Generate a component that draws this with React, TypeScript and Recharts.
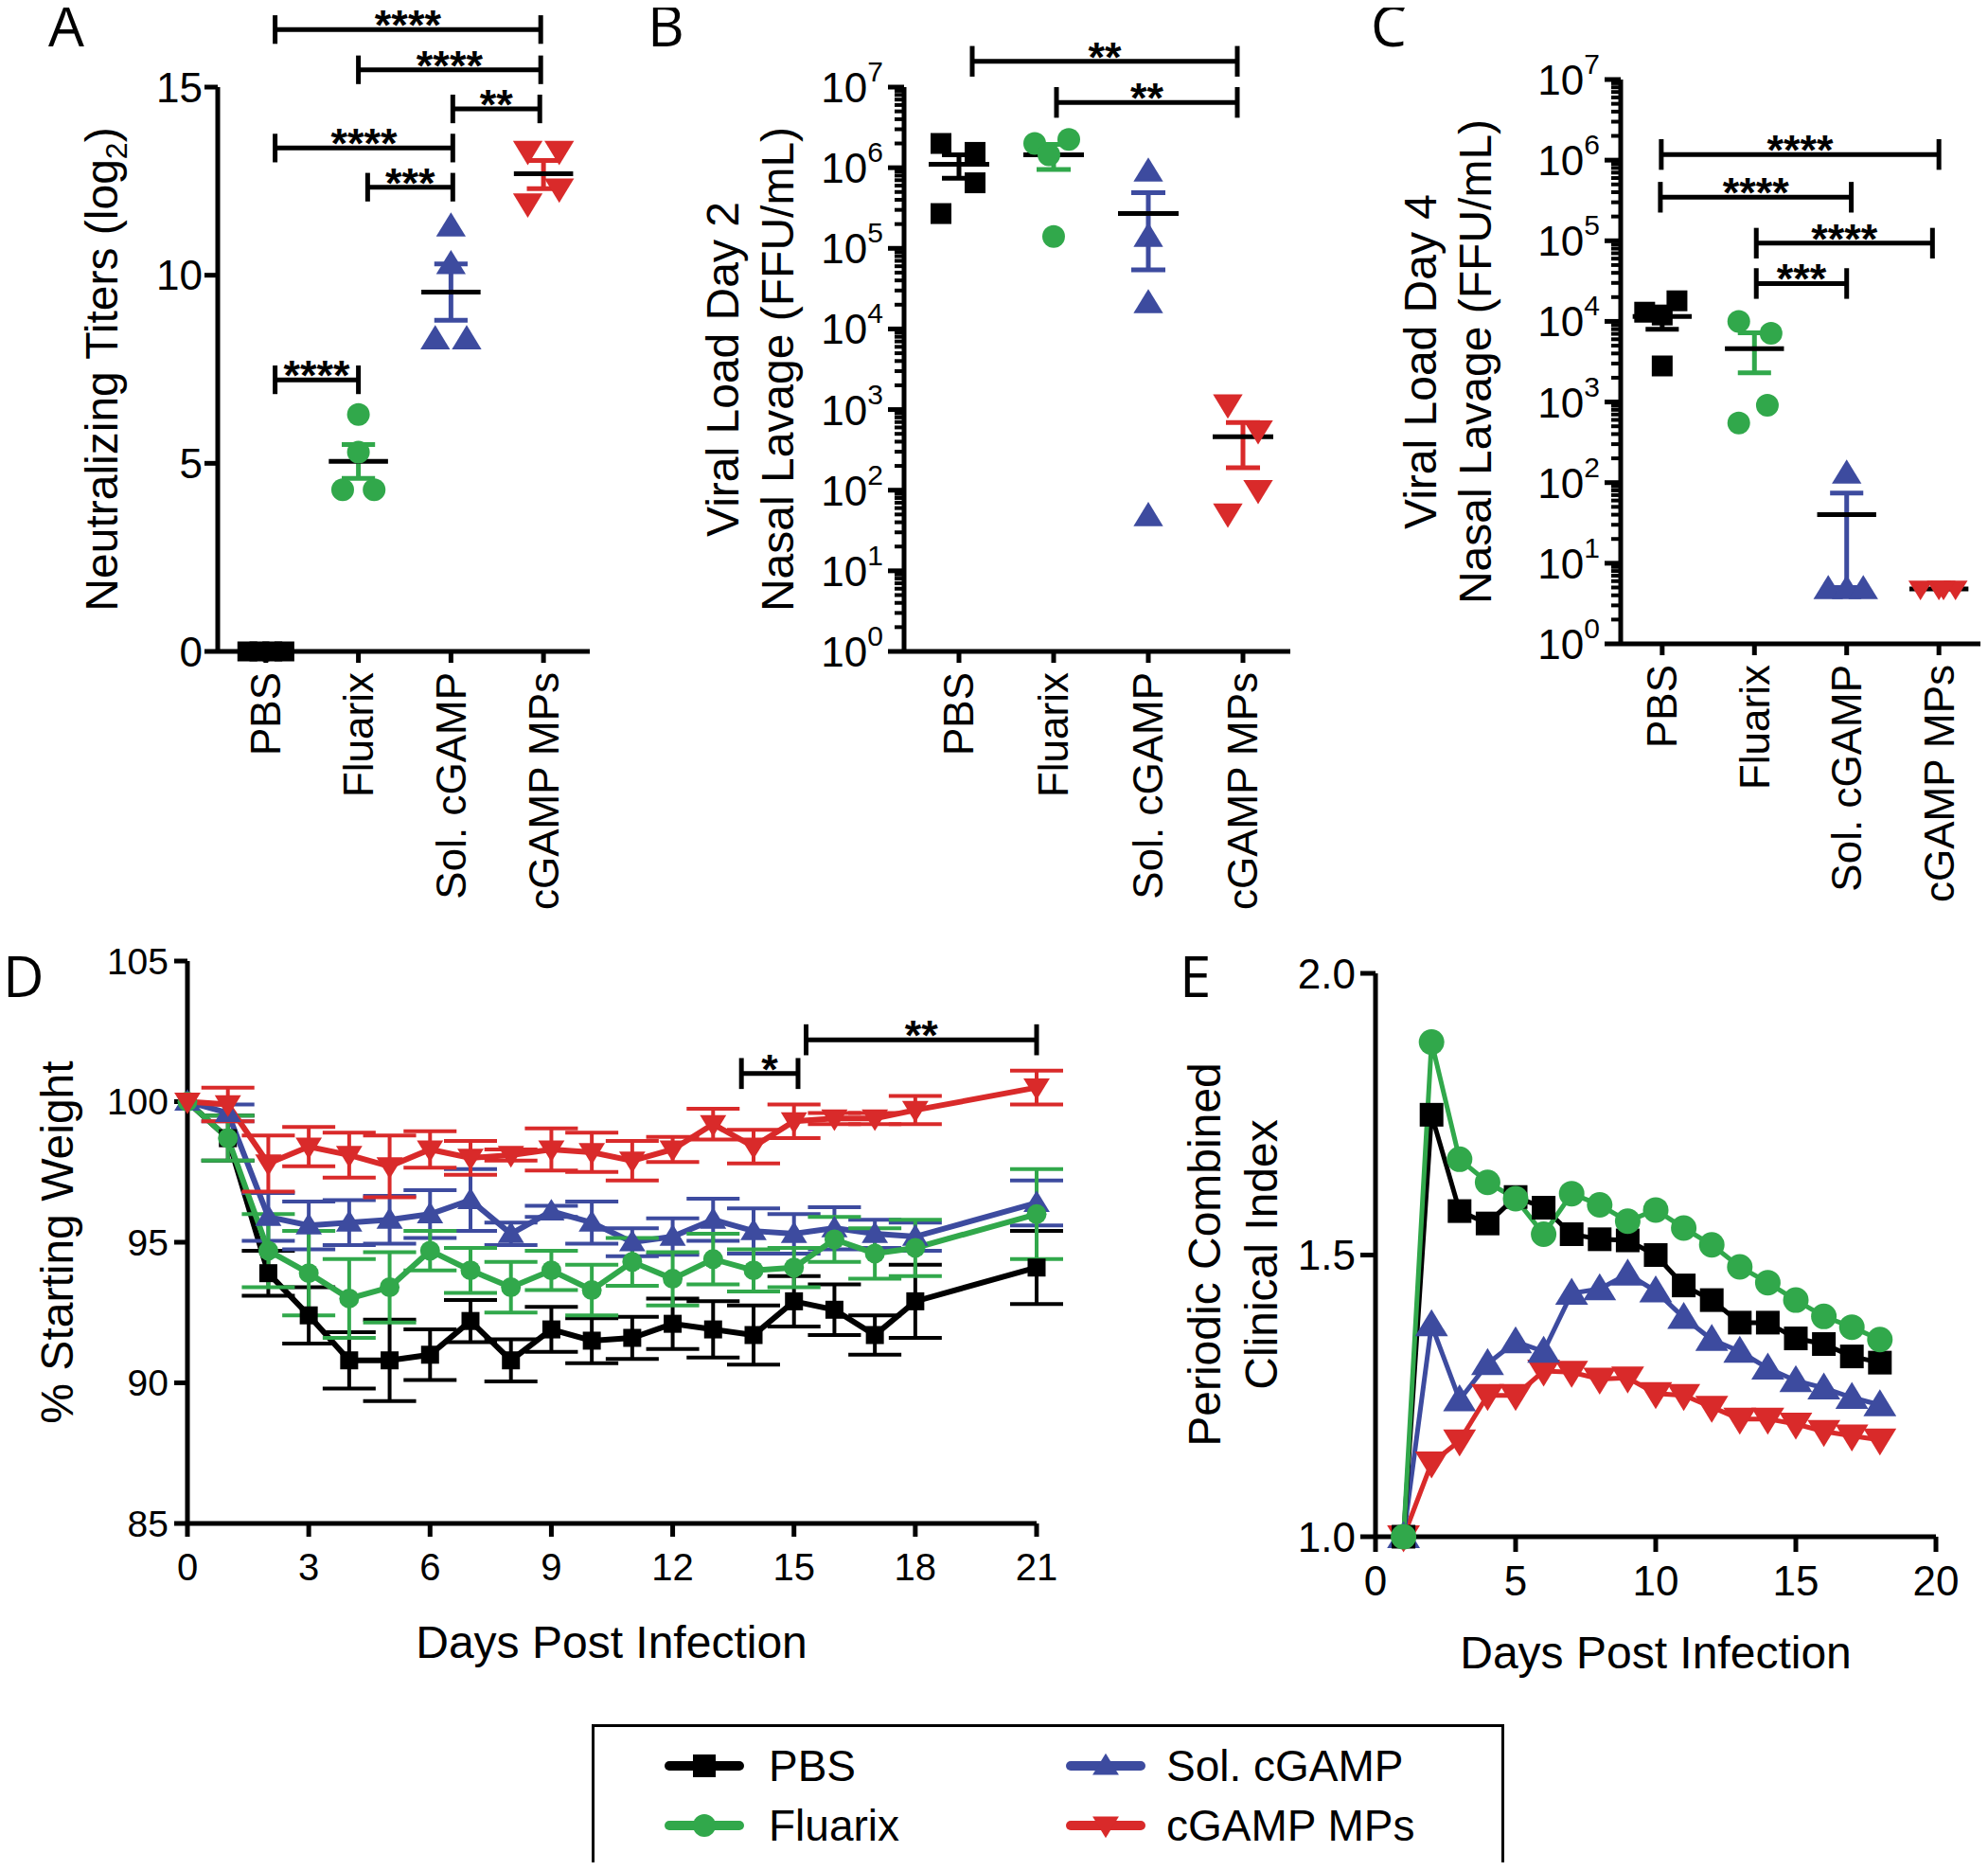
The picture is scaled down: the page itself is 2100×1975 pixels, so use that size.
import React from "react";
import {
  ScatterChart,
  Scatter,
  LineChart,
  Line,
  XAxis,
  YAxis,
  ReferenceLine,
  ErrorBar,
} from "recharts";

const FONT = "'Liberation Sans', Arial, Helvetica, sans-serif";
const LETTER_FONT = "'Open Sans', 'Noto Sans', sans-serif";
const INK = "#000000";
const AXIS_W = 5;

const GROUPS = ["PBS", "Fluarix", "Sol. cGAMP", "cGAMP MPs"];
const COLORS = ["#000000", "#31a84b", "#3d4b9f", "#d92a2a"];
const SHAPES = ["square", "circle", "up", "down"];

// ---- panel A: neutralizing titers (log2), 4 mice per group
const A_VALUES = [
  [0, 0, 0, 0],
  [6.3, 5.3, 4.3, 4.3],
  [11.3, 10.3, 8.3, 8.3],
  [13.3, 13.3, 12.3, 11.9],
];
const A_JITTER = [
  [-0.2, -0.07, 0.07, 0.2],
  [0, 0, -0.17, 0.17],
  [0, 0, -0.17, 0.17],
  [-0.17, 0.17, 0.17, -0.17],
];
const A_MEAN = [0, 5.05, 9.55, 12.7];
const A_SEM = [
  [0, 0],
  [4.6, 5.5],
  [8.8, 10.3],
  [12.3, 13.05],
];
const A_SIG = [
  { from: 1.1, to: 3.97, y: 16.53, text: "****" },
  { from: 2.0, to: 3.97, y: 15.46, text: "****" },
  { from: 3.02, to: 3.96, y: 14.42, text: "**" },
  { from: 1.1, to: 3.02, y: 13.38, text: "****" },
  { from: 2.1, to: 3.02, y: 12.34, text: "***" },
  { from: 1.1, to: 2.0, y: 7.22, text: "****" },
];

// ---- panel B: viral load day 2 (FFU/mL)
const B_VALUES = [
  [2.0e6, 1.55e6, 6.5e5, 2.7e5],
  [2.0e6, 2.25e6, 1.45e6, 1.4e5],
  [9.0e5, 1.4e5, 2.1e4, 48],
  [1150, 550, 100, 51],
];
const B_JITTER = [
  [-0.19, 0.17, 0.17, -0.19],
  [-0.2, 0.16, -0.05, 0],
  [0, 0, 0, 0],
  [-0.16, 0.16, 0.16, -0.16],
];
const B_MEAN = [1.1e6, 1.45e6, 2.7e5, 460];
const B_SEM = [
  [7.4e5, 1.45e6],
  [9.5e5, 1.95e6],
  [5.4e4, 4.9e5],
  [190, 690],
];
// y given as log10 exponent
const B_SIG = [
  { from: 1.14, to: 3.94, y: 7.32, text: "**" },
  { from: 2.03, to: 3.94, y: 6.81, text: "**" },
];

// ---- panel C: viral load day 4 (FFU/mL)
const C_VALUES = [
  [1.3e4, 1.8e4, 1.2e4, 2.8e3],
  [1.0e4, 7.1e3, 910, 550],
  [130, 4.8, 4.8, 4.8],
  [4.8, 4.8, 4.8, 4.8],
];
const C_JITTER = [
  [-0.19, 0.16, 0, 0],
  [-0.17, 0.18, 0.14, -0.17],
  [0, -0.2, 0, 0.18],
  [-0.2, 0, 0.18, 0.05],
];
const C_MEAN = [1.15e4, 4.6e3, 40, 4.8];
const C_SEM = [
  [8.0e3, 1.5e4],
  [2.3e3, 7.2e3],
  [5, 74],
  [4.8, 4.8],
];
const C_SIG = [
  { from: 0.99, to: 4.0, y: 6.07, text: "****" },
  { from: 0.98, to: 3.05, y: 5.54, text: "****" },
  { from: 2.02, to: 3.93, y: 4.97, text: "****" },
  { from: 2.02, to: 3.0, y: 4.47, text: "***" },
];

const LOG_MAJOR = [1, 10, 100, 1e3, 1e4, 1e5, 1e6, 1e7];
const LOG_STEPS = [1, 2, 3, 4, 5, 6, 7, 8, 9];
const LOG_TICKS = LOG_MAJOR.flatMap((d, i) =>
  i === LOG_MAJOR.length - 1 ? [d] : LOG_STEPS.map((m) => m * d)
);

// ---- panel D: % starting weight
const D_DAYS = [0, 1, 2, 3, 4, 5, 6, 7, 8, 9, 10, 11, 12, 13, 14, 15, 16, 17, 18, 21];
const D_PBS = [100, 98.7, 93.9, 92.4, 90.8, 90.8, 91.0, 92.2, 90.8, 91.9, 91.5, 91.6, 92.1, 91.9, 91.7, 92.9, 92.6, 91.7, 92.9, 94.1];
const D_PBS_ERR = [0, 0.8, 0.8, 1.0, 1.0, 1.45, 0.9, 0.75, 0.75, 0.8, 0.8, 0.75, 0.9, 1.0, 1.05, 0.9, 0.9, 0.7, 1.3, 1.3];
const D_FLU = [100, 98.7, 94.7, 93.9, 93.0, 93.4, 94.7, 94.0, 93.4, 94.0, 93.3, 94.3, 93.7, 94.4, 94.0, 94.1, 95.1, 94.6, 94.8, 96.0];
const D_FLU_ERR = [0, 0.8, 1.3, 1.5, 1.4, 1.25, 0.7, 0.8, 0.9, 0.7, 0.9, 0.85, 0.95, 0.9, 0.75, 0.7, 0.8, 0.9, 1.0, 1.6];
const D_SOL = [100, 99.6, 95.9, 95.6, 95.7, 95.8, 96.0, 96.5, 95.3, 96.1, 95.7, 95.0, 95.2, 95.8, 95.4, 95.3, 95.5, 95.3, 95.2, 96.4];
const D_SOL_ERR = [0, 0.3, 0.85, 0.85, 0.8, 0.85, 0.85, 1.1, 0.4, 0.2, 0.75, 0.5, 0.65, 0.75, 0.8, 0.7, 0.75, 0.5, 0.5, 0.8];
const D_MPS = [100, 99.9, 97.8, 98.4, 98.1, 97.7, 98.3, 98.0, 98.1, 98.3, 98.2, 97.9, 98.3, 99.2, 98.4, 99.3, 99.4, 99.4, 99.7, 100.5];
const D_MPS_ERR = [0, 0.6, 1.0, 0.7, 0.8, 1.1, 0.65, 0.6, 0.2, 0.75, 0.7, 0.7, 0.45, 0.55, 0.6, 0.6, 0.2, 0.2, 0.5, 0.6];
const D_SIG = [
  { from: 13.7, to: 15.1, y: 101.0, text: "*" },
  { from: 15.3, to: 21.0, y: 102.2, text: "**" },
];

// ---- panel E: periodic combined clinical index
const E_DAYS = [1, 2, 3, 4, 5, 6, 7, 8, 9, 10, 11, 12, 13, 14, 15, 16, 17, 18];
const E_PBS = [1.0, 1.749, 1.578, 1.556, 1.603, 1.584, 1.537, 1.528, 1.526, 1.5, 1.446, 1.42, 1.38, 1.38, 1.352, 1.342, 1.32, 1.309];
const E_FLU = [1.0, 1.878, 1.67, 1.629, 1.6, 1.537, 1.609, 1.589, 1.56, 1.58, 1.548, 1.518, 1.479, 1.451, 1.42, 1.391, 1.372, 1.35];
const E_SOL = [1.0, 1.376, 1.243, 1.307, 1.346, 1.329, 1.432, 1.44, 1.466, 1.436, 1.389, 1.35, 1.329, 1.299, 1.277, 1.264, 1.247, 1.234];
const E_MPS = [1.0, 1.131, 1.17, 1.251, 1.251, 1.294, 1.292, 1.28, 1.282, 1.254, 1.251, 1.23, 1.209, 1.209, 1.2, 1.187, 1.179, 1.172];

const D_ROWS = D_DAYS.map((day, i) => ({
  day,
  pbs: D_PBS[i],
  pbsErr: D_PBS_ERR[i],
  flu: D_FLU[i],
  fluErr: D_FLU_ERR[i],
  sol: D_SOL[i],
  solErr: D_SOL_ERR[i],
  mps: D_MPS[i],
  mpsErr: D_MPS_ERR[i],
}));

const E_ROWS = E_DAYS.map((day, i) => ({
  day,
  pbs: E_PBS[i],
  flu: E_FLU[i],
  sol: E_SOL[i],
  mps: E_MPS[i],
}));

const SERIES_KEYS = ["pbs", "flu", "sol", "mps"];

function Marker({ kind, cx, cy, size, fill }: { kind: string; cx?: number; cy?: number; size: number; fill: string }) {
  if (cx == null || cy == null || Number.isNaN(cx) || Number.isNaN(cy)) return null;
  const h = size / 2;
  if (kind === "square") return <rect x={cx - h} y={cy - h} width={size} height={size} fill={fill} />;
  if (kind === "circle") return <circle cx={cx} cy={cy} r={h} fill={fill} />;
  const w = size * 0.58;
  if (kind === "up")
    return <polygon points={`${cx},${cy - h * 1.1} ${cx - w},${cy + h * 0.8} ${cx + w},${cy + h * 0.8}`} fill={fill} />;
  return <polygon points={`${cx},${cy + h * 1.1} ${cx - w},${cy - h * 0.8} ${cx + w},${cy - h * 0.8}`} fill={fill} />;
}

function GroupTick(props: any) {
  const { x, y, payload } = props;
  const name = GROUPS[Math.round(payload.value) - 1] ?? "";
  return (
    <text x={x} y={y} transform={`rotate(-90, ${x}, ${y})`} textAnchor="end" dy="0.35em" fontSize={44} fontFamily={FONT} fill={INK}>
      {name}
    </text>
  );
}

function LogTick(props: any) {
  const { x, y, payload } = props;
  const v = payload.value;
  const e = Math.round(Math.log10(v));
  const major = Math.abs(v - Math.pow(10, e)) < 1e-6 * v;
  return (
    <g>
      <line x1={x} x2={x - (major ? 17 : 10)} y1={y} y2={y} stroke={INK} strokeWidth={major ? 5 : 4} />
      {major && (
        <text x={x - 22} y={y + 16} textAnchor="end" fontSize={44} fontFamily={FONT} fill={INK}>
          <tspan>10</tspan>
          <tspan dy={-22} fontSize={30}>{e}</tspan>
        </text>
      )}
    </g>
  );
}

function YTitle({ lines, xs, cy, size }: { lines: React.ReactNode[]; xs: number[]; cy: number; size: number }) {
  return (
    <g>
      {lines.map((l, i) => (
        <text key={i} x={xs[i]} y={cy} transform={`rotate(-90, ${xs[i]}, ${cy})`} textAnchor="middle" dy="0.35em" fontSize={size} fontFamily={FONT} fill={INK}>
          {l}
        </text>
      ))}
    </g>
  );
}

function XTitle({ text, cx, cy, size }: { text: string; cx: number; cy: number; size: number }) {
  return (
    <text x={cx} y={cy} textAnchor="middle" dy="0.35em" fontSize={size} fontFamily={FONT} fill={INK}>
      {text}
    </text>
  );
}

type Sig = { from: number; to: number; y: number; text: string };

const sigLabel = (text: string) => ({
  value: text,
  position: "top" as const,
  offset: -11,
  fontSize: 45,
  fontWeight: 700,
  fill: INK,
  fontFamily: FONT,
});

function bracket(key: string, s: Sig, y: number, lo: number, hi: number) {
  return [
    <ReferenceLine key={key + "h"} segment={[{ x: s.from, y }, { x: s.to, y }]} stroke={INK} strokeWidth={5} ifOverflow="visible" label={sigLabel(s.text)} />,
    <ReferenceLine key={key + "l"} segment={[{ x: s.from, y: lo }, { x: s.from, y: hi }]} stroke={INK} strokeWidth={5} ifOverflow="visible" />,
    <ReferenceLine key={key + "r"} segment={[{ x: s.to, y: lo }, { x: s.to, y: hi }]} stroke={INK} strokeWidth={5} ifOverflow="visible" />,
  ];
}

interface ScatterPanelProps {
  left: number;
  top: number;
  width: number;
  height: number;
  plotTop: number;
  plotLeft: number;
  plotRight: number;
  xAxisHeight: number;
  xDomain: [number, number];
  log: boolean;
  yDomain: [number, number];
  yTicks: number[];
  values: number[][];
  jitter: number[][];
  mean: number[];
  sem: number[][];
  sig: Sig[];
  cap: number;
  sizes: number[];
  titles: React.ReactNode[];
  titleXs: number[];
}

function ScatterPanel(p: ScatterPanelProps) {
  const plotBottom = p.height - p.xAxisHeight;
  const midY = (p.plotTop + plotBottom) / 2;
  const span = (y: number, d: number) => (p.log ? [y / Math.pow(10, d), y * Math.pow(10, d)] : [y - d, y + d]);
  return (
    <div style={{ position: "absolute", left: p.left, top: p.top, width: p.width, height: p.height }}>
      <ScatterChart width={p.width} height={p.height} margin={{ top: p.plotTop, right: p.width - p.plotRight, bottom: 0, left: 0 }}>
        <XAxis
          type="number"
          dataKey="x"
          domain={p.xDomain}
          ticks={[1, 2, 3, 4]}
          interval={0}
          height={p.xAxisHeight}
          axisLine={{ stroke: INK, strokeWidth: AXIS_W }}
          tickLine={{ stroke: INK, strokeWidth: AXIS_W }}
          tickSize={12}
          tickMargin={10}
          tick={<GroupTick />}
        />
        {p.log ? (
          <YAxis
            type="number"
            dataKey="y"
            scale="log"
            domain={p.yDomain}
            ticks={p.yTicks}
            interval={0}
            width={p.plotLeft}
            axisLine={{ stroke: INK, strokeWidth: AXIS_W }}
            tickLine={false}
            tickSize={0}
            tickMargin={0}
            tick={<LogTick />}
            label={<YTitle lines={p.titles} xs={p.titleXs} cy={midY} size={48} />}
          />
        ) : (
          <YAxis
            type="number"
            dataKey="y"
            domain={p.yDomain}
            ticks={p.yTicks}
            interval={0}
            width={p.plotLeft}
            axisLine={{ stroke: INK, strokeWidth: AXIS_W }}
            tickLine={{ stroke: INK, strokeWidth: AXIS_W }}
            tickSize={14}
            tickMargin={2}
            tick={{ fontSize: 44, fill: INK, fontFamily: FONT }}
            label={<YTitle lines={p.titles} xs={p.titleXs} cy={midY} size={48} />}
          />
        )}
        {p.values.map((vals, g) => (
          <Scatter
            key={"s" + g}
            data={vals.map((v, k) => ({ x: g + 1 + p.jitter[g][k], y: v }))}
            isAnimationActive={false}
            shape={(s: any) => <Marker kind={SHAPES[g]} cx={s.cx} cy={s.cy} size={p.sizes[g]} fill={COLORS[g]} />}
          />
        ))}
        {p.sem.flatMap(([lo, hi], g) =>
          lo === hi
            ? []
            : [
                <ReferenceLine key={"ev" + g} segment={[{ x: g + 1, y: lo }, { x: g + 1, y: hi }]} stroke={COLORS[g]} strokeWidth={5} ifOverflow="visible" />,
                <ReferenceLine key={"el" + g} segment={[{ x: g + 0.82, y: lo }, { x: g + 1.18, y: lo }]} stroke={COLORS[g]} strokeWidth={5} ifOverflow="visible" />,
                <ReferenceLine key={"eh" + g} segment={[{ x: g + 0.82, y: hi }, { x: g + 1.18, y: hi }]} stroke={COLORS[g]} strokeWidth={5} ifOverflow="visible" />,
              ]
        )}
        {p.mean.map((m, g) =>
          g === 0 && m === 0 ? null : (
            <ReferenceLine key={"m" + g} segment={[{ x: g + 0.68, y: m }, { x: g + 1.32, y: m }]} stroke={INK} strokeWidth={5} ifOverflow="visible" />
          )
        )}
        {p.sig.flatMap((s, i) => {
          const y = p.log ? Math.pow(10, s.y) : s.y;
          const [lo, hi] = span(y, p.cap);
          return bracket("b" + i, s, y, lo, hi);
        })}
      </ScatterChart>
    </div>
  );
}

// panel letters, drawn in one overlay (x = glyph start, y = baseline)
const LETTERS = [
  { text: "A", x: 43, y: 41 },
  { text: "B", x: 676, y: 41 },
  { text: "C", x: 1440, y: 41 },
  { text: "D", x: -5, y: 1045 },
  { text: "E", x: 1238, y: 1045 },
];

function PanelLetters() {
  return (
    <svg width={2084} height={1959} style={{ position: "absolute", left: 0, top: 0, overflow: "visible", pointerEvents: "none" }}>
      {LETTERS.map((l) => (
        <text key={l.text} x={l.x} y={l.y} fontFamily={LETTER_FONT} fontSize={60} fill={INK}>
          {l.text}
        </text>
      ))}
    </svg>
  );
}

function WeightChart() {
  const width = 1120;
  const height = 800;
  const plotTop = 35;
  const plotLeft = 190;
  const plotRight = 1087;
  const xAxisHeight = 171;
  const order = [0, 2, 1, 3];
  const sizes = [19, 21, 24, 24];
  return (
    <div style={{ position: "absolute", left: 0, top: 972, width, height }}>
      <LineChart width={width} height={height} data={D_ROWS} margin={{ top: plotTop, right: width - plotRight, bottom: 0, left: 0 }}>
        <XAxis
          type="number"
          dataKey="day"
          domain={[0, 21]}
          ticks={[0, 3, 6, 9, 12, 15, 18, 21]}
          interval={0}
          height={xAxisHeight}
          axisLine={{ stroke: INK, strokeWidth: AXIS_W }}
          tickLine={{ stroke: INK, strokeWidth: AXIS_W }}
          tickSize={14}
          tickMargin={18}
          tick={{ fontSize: 40, fill: INK, fontFamily: FONT }}
          label={<XTitle text="Days Post Infection" cx={638} cy={754} size={48} />}
        />
        <YAxis
          type="number"
          domain={[85, 105]}
          ticks={[85, 90, 95, 100, 105]}
          interval={0}
          width={plotLeft}
          axisLine={{ stroke: INK, strokeWidth: AXIS_W }}
          tickLine={{ stroke: INK, strokeWidth: AXIS_W }}
          tickSize={14}
          tickMargin={6}
          tick={{ fontSize: 39, fill: INK, fontFamily: FONT }}
          label={<YTitle lines={["% Starting Weight"]} xs={[52]} cy={332} size={48} />}
        />
        {order.map((g) => (
          <Line
            key={SERIES_KEYS[g]}
            type="linear"
            dataKey={SERIES_KEYS[g]}
            name={GROUPS[g]}
            stroke={COLORS[g]}
            strokeWidth={6}
            isAnimationActive={false}
            dot={(d: any) => <Marker key={SERIES_KEYS[g] + d.index} kind={SHAPES[g]} cx={d.cx} cy={d.cy} size={sizes[g]} fill={COLORS[g]} />}
            activeDot={false}
          >
            <ErrorBar dataKey={SERIES_KEYS[g] + "Err"} direction="y" width={28} strokeWidth={4} stroke={COLORS[g]} />
          </Line>
        ))}
        {D_SIG.flatMap((s, i) => bracket("d" + i, s, s.y, s.y - 0.55, s.y + 0.55))}
      </LineChart>
    </div>
  );
}

function ClinicalChart() {
  const width = 852;
  const height = 800;
  const plotTop = 48;
  const plotLeft = 213;
  const plotRight = 805;
  const xAxisHeight = 157;
  const order = [3, 2, 0, 1];
  const sizes = [25, 27, 30, 30];
  return (
    <div style={{ position: "absolute", left: 1232, top: 972, width, height }}>
      <LineChart width={width} height={height} data={E_ROWS} margin={{ top: plotTop, right: width - plotRight, bottom: 0, left: 0 }}>
        <XAxis
          type="number"
          dataKey="day"
          domain={[0, 20]}
          ticks={[0, 5, 10, 15, 20]}
          interval={0}
          height={xAxisHeight}
          axisLine={{ stroke: INK, strokeWidth: AXIS_W }}
          tickLine={{ stroke: INK, strokeWidth: AXIS_W }}
          tickSize={16}
          tickMargin={15}
          tick={{ fontSize: 44, fill: INK, fontFamily: FONT }}
          label={<XTitle text="Days Post Infection" cx={509} cy={765} size={48} />}
        />
        <YAxis
          type="number"
          domain={[1, 2]}
          ticks={[1, 1.5, 2]}
          interval={0}
          width={plotLeft}
          axisLine={{ stroke: INK, strokeWidth: AXIS_W }}
          tickLine={{ stroke: INK, strokeWidth: AXIS_W }}
          tickSize={16}
          tickMargin={5}
          tickFormatter={(v: number) => v.toFixed(1)}
          tick={{ fontSize: 44, fill: INK, fontFamily: FONT }}
          label={<YTitle lines={["Periodic Combined", "Clinical Index"]} xs={[32, 92]} cy={345} size={48} />}
        />
        {order.map((g) => (
          <Line
            key={SERIES_KEYS[g]}
            type="linear"
            dataKey={SERIES_KEYS[g]}
            name={GROUPS[g]}
            stroke={COLORS[g]}
            strokeWidth={5}
            isAnimationActive={false}
            dot={(d: any) => <Marker key={SERIES_KEYS[g] + d.index} kind={SHAPES[g]} cx={d.cx} cy={d.cy} size={sizes[g]} fill={COLORS[g]} />}
            activeDot={false}
          />
        ))}
      </LineChart>
    </div>
  );
}

function LegendBox() {
  const cells = [
    { g: 0, col: 0, row: 0 },
    { g: 1, col: 0, row: 1 },
    { g: 2, col: 1, row: 0 },
    { g: 3, col: 1, row: 1 },
  ];
  const iconX = [82, 506];
  const textX = [187, 607];
  const rowY = [44, 107];
  return (
    <div style={{ position: "absolute", left: 617, top: 1813, width: 964, height: 151, border: "3px solid #000", boxSizing: "border-box" }}>
      <svg width={958} height={145} style={{ display: "block" }}>
        {cells.map(({ g, col, row }) => (
          <g key={g}>
            <line x1={iconX[col] - 3} x2={iconX[col] + 71} y1={rowY[row] - 3} y2={rowY[row] - 3} stroke={COLORS[g]} strokeWidth={10} strokeLinecap="round" />
            <Marker kind={SHAPES[g]} cx={iconX[col] + 34} cy={rowY[row] - 3} size={24} fill={COLORS[g]} />
            <text x={textX[col] - 3} y={rowY[row] - 3} dy="0.35em" fontSize={46} fontFamily={FONT} fill={INK}>
              {GROUPS[g]}
            </text>
          </g>
        ))}
      </svg>
    </div>
  );
}

export default function App() {
  return (
    <div style={{ position: "relative", width: 2084, height: 1959, background: "#fff" }}>
      <ScatterPanel
        left={0}
        top={0}
        width={630}
        height={980}
        plotTop={84}
        plotLeft={222}
        plotRight={615}
        xAxisHeight={300}
        xDomain={[0.48, 4.5]}
        log={false}
        yDomain={[0, 15]}
        yTicks={[0, 5, 10, 15]}
        values={A_VALUES}
        jitter={A_JITTER}
        mean={A_MEAN}
        sem={A_SEM}
        sig={A_SIG}
        cap={0.38}
        sizes={[21, 24, 27, 27]}
        titles={[
          <>
            Neutralizing Titers (log<tspan dy={10} fontSize={32}>2</tspan>
            <tspan dy={-10}>)</tspan>
          </>,
        ]}
        titleXs={[99]}
      />
      <ScatterPanel
        left={712}
        top={0}
        width={660}
        height={980}
        plotTop={84}
        plotLeft={235}
        plotRight={643}
        xAxisHeight={300}
        xDomain={[0.42, 4.5]}
        log={true}
        yDomain={[1, 1e7]}
        yTicks={LOG_TICKS}
        values={B_VALUES}
        jitter={B_JITTER}
        mean={B_MEAN}
        sem={B_SEM}
        sig={B_SIG}
        cap={0.19}
        sizes={[22, 24, 27, 27]}
        titles={["Viral Load Day 2", "Nasal Lavage (FFU/mL)"]}
        titleXs={[43, 101]}
      />
      <ScatterPanel
        left={1452}
        top={0}
        width={632}
        height={980}
        plotTop={76}
        plotLeft={252}
        plotRight={632}
        xAxisHeight={308}
        xDomain={[0.55, 4.45]}
        log={true}
        yDomain={[1, 1e7]}
        yTicks={LOG_TICKS}
        values={C_VALUES}
        jitter={C_JITTER}
        mean={C_MEAN}
        sem={C_SEM}
        sig={C_SIG}
        cap={0.19}
        sizes={[22, 24, 27, 22]}
        titles={["Viral Load Day 4", "Nasal Lavage (FFU/mL)"]}
        titleXs={[40, 98]}
      />
      <WeightChart />
      <ClinicalChart />
      <LegendBox />
      <PanelLetters />
    </div>
  );
}
